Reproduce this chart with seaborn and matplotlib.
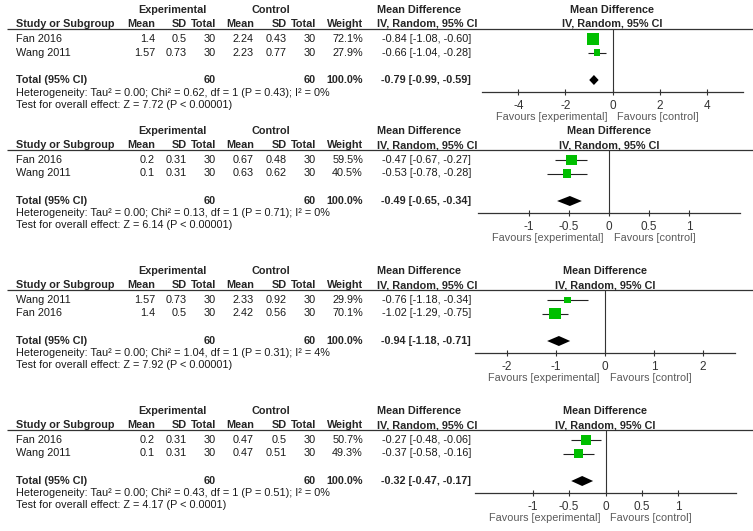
import numpy as np
import matplotlib
matplotlib.use("Agg")
import matplotlib.pyplot as plt
import seaborn as sns

# ---------------- data ----------------
p1_studies = ["Fan 2016", "Wang 2011"]
p1_exp_mean = [1.4, 1.57]
p1_exp_sd = [0.5, 0.73]
p1_exp_n = [30, 30]
p1_ctl_mean = [2.24, 2.23]
p1_ctl_sd = [0.43, 0.77]
p1_ctl_n = [30, 30]
p1_weight = [72.1, 27.9]
p1_md = [-0.84, -0.66]
p1_lo = [-1.08, -1.04]
p1_hi = [-0.60, -0.28]
p1_total = [-0.79, -0.99, -0.59]
p1_het = "Heterogeneity: Tau² = 0.00; Chi² = 0.62, df = 1 (P = 0.43); I² = 0%"
p1_test = "Test for overall effect: Z = 7.72 (P < 0.00001)"
p1_ticks = [-4, -2, 0, 2, 4]

p2_studies = ["Fan 2016", "Wang 2011"]
p2_exp_mean = [0.2, 0.1]
p2_exp_sd = [0.31, 0.31]
p2_exp_n = [30, 30]
p2_ctl_mean = [0.67, 0.63]
p2_ctl_sd = [0.48, 0.62]
p2_ctl_n = [30, 30]
p2_weight = [59.5, 40.5]
p2_md = [-0.47, -0.53]
p2_lo = [-0.67, -0.78]
p2_hi = [-0.27, -0.28]
p2_total = [-0.49, -0.65, -0.34]
p2_het = "Heterogeneity: Tau² = 0.00; Chi² = 0.13, df = 1 (P = 0.71); I² = 0%"
p2_test = "Test for overall effect: Z = 6.14 (P < 0.00001)"
p2_ticks = [-1, -0.5, 0, 0.5, 1]

p3_studies = ["Wang 2011", "Fan 2016"]
p3_exp_mean = [1.57, 1.4]
p3_exp_sd = [0.73, 0.5]
p3_exp_n = [30, 30]
p3_ctl_mean = [2.33, 2.42]
p3_ctl_sd = [0.92, 0.56]
p3_ctl_n = [30, 30]
p3_weight = [29.9, 70.1]
p3_md = [-0.76, -1.02]
p3_lo = [-1.18, -1.29]
p3_hi = [-0.34, -0.75]
p3_total = [-0.94, -1.18, -0.71]
p3_het = "Heterogeneity: Tau² = 0.00; Chi² = 1.04, df = 1 (P = 0.31); I² = 4%"
p3_test = "Test for overall effect: Z = 7.92 (P < 0.00001)"
p3_ticks = [-2, -1, 0, 1, 2]

p4_studies = ["Fan 2016", "Wang 2011"]
p4_exp_mean = [0.2, 0.1]
p4_exp_sd = [0.31, 0.31]
p4_exp_n = [30, 30]
p4_ctl_mean = [0.47, 0.47]
p4_ctl_sd = [0.5, 0.51]
p4_ctl_n = [30, 30]
p4_weight = [50.7, 49.3]
p4_md = [-0.27, -0.37]
p4_lo = [-0.48, -0.58]
p4_hi = [-0.06, -0.16]
p4_total = [-0.32, -0.47, -0.17]
p4_het = "Heterogeneity: Tau² = 0.00; Chi² = 0.43, df = 1 (P = 0.51); I² = 0%"
p4_test = "Test for overall effect: Z = 4.17 (P < 0.0001)"
p4_ticks = [-1, -0.5, 0, 0.5, 1]

panels = [
    dict(studies=p1_studies, em=p1_exp_mean, es=p1_exp_sd, en=p1_exp_n, cm=p1_ctl_mean, cs=p1_ctl_sd,
         cn=p1_ctl_n, w=p1_weight, md=p1_md, lo=p1_lo, hi=p1_hi, tot=p1_total, het=p1_het, test=p1_test,
         ticks=p1_ticks),
    dict(studies=p2_studies, em=p2_exp_mean, es=p2_exp_sd, en=p2_exp_n, cm=p2_ctl_mean, cs=p2_ctl_sd,
         cn=p2_ctl_n, w=p2_weight, md=p2_md, lo=p2_lo, hi=p2_hi, tot=p2_total, het=p2_het, test=p2_test,
         ticks=p2_ticks),
    dict(studies=p3_studies, em=p3_exp_mean, es=p3_exp_sd, en=p3_exp_n, cm=p3_ctl_mean, cs=p3_ctl_sd,
         cn=p3_ctl_n, w=p3_weight, md=p3_md, lo=p3_lo, hi=p3_hi, tot=p3_total, het=p3_het, test=p3_test,
         ticks=p3_ticks),
    dict(studies=p4_studies, em=p4_exp_mean, es=p4_exp_sd, en=p4_exp_n, cm=p4_ctl_mean, cs=p4_ctl_sd,
         cn=p4_ctl_n, w=p4_weight, md=p4_md, lo=p4_lo, hi=p4_hi, tot=p4_total, het=p4_het, test=p4_test,
         ticks=p4_ticks),
]

# ---------------- layout / style ----------------
sns.set_theme(style="white")
plt.rcParams["font.family"] = ["Liberation Sans", "DejaVu Sans"]

W, H = 753, 531
fig = plt.figure(figsize=(W / 100, H / 100), dpi=100)
fig.patch.set_facecolor("white")
ov = fig.add_axes([0, 0, 1, 1])
ov.set_xlim(0, W)
ov.set_ylim(H, 0)
ov.axis("off")

FS = 7.8
TXT = "#1a1a1a"
HDR = "#262626"
GRAY = "#5a5a5a"
GREEN = "#00bf00"

line_y = [29, 150, 290, 430]
axis_px = [(482, 743, 5.55), (478, 740, 1.64), (475, 735, 2.65), (475, 736, 1.79)]

x_study = 16
x_em, x_es, x_en = 155, 187, 216
x_cm, x_cs, x_cn = 254, 287, 316
x_w = 363
x_mdl = 377
x_mdr = 471

def fmt(v):
    return f"{v:g}"

for i, p in enumerate(panels):
    ly = line_y[i]
    xl, xr, half = axis_px[i]
    zero_px = (xl + xr) / 2

    # header line
    ov.plot([7, W], [ly, ly], color="#333333", lw=0.9, solid_capstyle="butt")

    # header row 1
    ov.text(172, ly - 19, "Experimental", ha="center", va="center", fontsize=FS, fontweight="bold", color=HDR)
    ov.text(271, ly - 19, "Control", ha="center", va="center", fontsize=FS, fontweight="bold", color=HDR)
    ov.text(x_mdl, ly - 19, "Mean Difference", ha="left", va="center", fontsize=FS, fontweight="bold", color=HDR)
    ov.text(zero_px, ly - 19, "Mean Difference", ha="center", va="center", fontsize=FS, fontweight="bold", color=HDR)
    # header row 2
    hy = ly - 5
    ov.text(x_study, hy, "Study or Subgroup", ha="left", va="center", fontsize=FS, fontweight="bold", color=HDR)
    for xx, lab in [(x_em, "Mean"), (x_es, "SD"), (x_en, "Total"), (x_cm, "Mean"), (x_cs, "SD"),
                    (x_cn, "Total"), (x_w, "Weight")]:
        ov.text(xx, hy, lab, ha="right", va="center", fontsize=FS, fontweight="bold", color=HDR)
    ov.text(x_mdl, hy, "IV, Random, 95% CI", ha="left", va="center", fontsize=FS, fontweight="bold", color=HDR)
    ov.text(zero_px, hy, "IV, Random, 95% CI", ha="center", va="center", fontsize=FS, fontweight="bold", color=HDR)

    rows = [10, 23.5]
    for j, s in enumerate(p["studies"]):
        ry = ly + rows[j]
        ov.text(x_study, ry, s, ha="left", va="center", fontsize=FS, color=TXT)
        for xx, v in [(x_em, fmt(p["em"][j])), (x_es, fmt(p["es"][j])), (x_en, str(p["en"][j])),
                      (x_cm, fmt(p["cm"][j])), (x_cs, fmt(p["cs"][j])), (x_cn, str(p["cn"][j])),
                      (x_w, f"{p['w'][j]:.1f}%")]:
            ov.text(xx, ry, v, ha="right", va="center", fontsize=FS, color=TXT)
        ov.text(x_mdr, ry, f"{p['md'][j]:.2f} [{p['lo'][j]:.2f}, {p['hi'][j]:.2f}]",
                ha="right", va="center", fontsize=FS, color=TXT)

    ty = ly + 51
    ov.text(x_study, ty, "Total (95% CI)", ha="left", va="center", fontsize=FS, fontweight="bold", color=HDR)
    ov.text(x_en, ty, str(sum(p["en"])), ha="right", va="center", fontsize=FS, fontweight="bold", color=HDR)
    ov.text(x_cn, ty, str(sum(p["cn"])), ha="right", va="center", fontsize=FS, fontweight="bold", color=HDR)
    ov.text(x_w, ty, f"{sum(p['w']):.1f}%", ha="right", va="center", fontsize=FS, fontweight="bold", color=HDR)
    t = p["tot"]
    ov.text(x_mdr, ty, f"{t[0]:.2f} [{t[1]:.2f}, {t[2]:.2f}]", ha="right", va="center",
            fontsize=FS, fontweight="bold", color=HDR)
    ov.text(x_study, ly + 63.5, p["het"], ha="left", va="center", fontsize=FS, color=TXT)
    ov.text(x_study, ly + 75.5, p["test"], ha="left", va="center", fontsize=FS, color=TXT)

    # forest axes
    AH = 63
    ax = fig.add_axes([xl / W, 1 - (ly + AH) / H, (xr - xl) / W, AH / H])
    ax.set_facecolor("none")
    ypos = np.array(rows[:len(p["md"])])
    ax.hlines(ypos, p["lo"], p["hi"], color="#222222", lw=0.8, zorder=2)
    sides_px = 12.0 * (np.array(p["w"]) / 72.1) ** 0.65
    sizes = (sides_px * 0.72) ** 2
    sns.scatterplot(x=np.array(p["md"]), y=ypos, marker="s", s=sizes, color=GREEN,
                    edgecolor="none", linewidth=0, ax=ax, legend=False, zorder=3)
    dh = 5.0
    ax.fill([t[1], t[0], t[2], t[0]], [51, 51 - dh, 51, 51 + dh], color="black", lw=0, zorder=3)
    ax.axvline(0, color="#333333", lw=0.8, zorder=1)
    ax.set_xlim(-half, half)
    ax.set_ylim(AH, 0)
    for sp in ["top", "left", "right"]:
        ax.spines[sp].set_visible(False)
    ax.spines["bottom"].set_color("#333333")
    ax.spines["bottom"].set_linewidth(0.9)
    ax.set_yticks([])
    ax.set_xticks(p["ticks"])
    ax.set_xticklabels([fmt(v) for v in p["ticks"]])
    ax.tick_params(axis="x", direction="inout", length=5, width=0.8, color="#333333",
                   labelsize=8.5, labelcolor="#333333", pad=3, bottom=True)
    ax.set_xlabel("")
    ax.set_ylabel("")

    fy = ly + 88
    ov.text(zero_px - 5, fy, "Favours [experimental]", ha="right", va="center", fontsize=FS, color=GRAY)
    ov.text(zero_px + 5, fy, "Favours [control]", ha="left", va="center", fontsize=FS, color=GRAY)

fig.savefig("out.png", dpi=100, facecolor="white")
